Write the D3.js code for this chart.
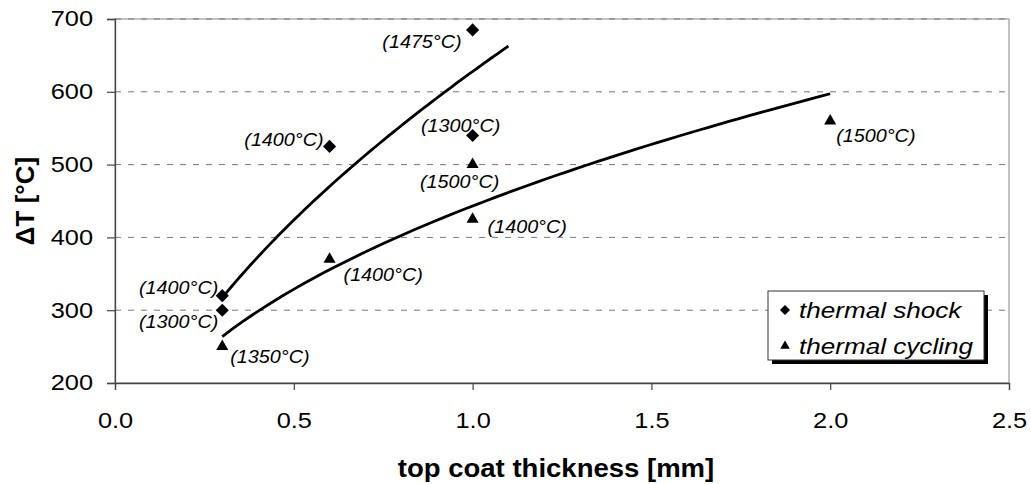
<!DOCTYPE html>
<html lang="en">
<head>
<meta charset="UTF-8">
<title>ΔT vs top coat thickness</title>
<script src="https://cdn.jsdelivr.net/npm/d3@7"></script>
<style>
  body { margin: 0; background: #fff; }
  text { font-family: "Liberation Sans", Arial, sans-serif; }
</style>
</head>
<body>
<svg width="1031" height="484"></svg>
<script>
// data
var shockX = [0.3, 0.3, 0.6, 1.0, 1.0];
var shockY = [320, 300, 525, 685, 540];
var shockTemp = ['(1400°C)', '(1300°C)', '(1400°C)', '(1475°C)', '(1300°C)'];

var cycX = [0.3, 0.6, 1.0, 1.0, 2.0];
var cycY = [250, 370, 500, 425, 560];
var cycTemp = ['(1350°C)', '(1400°C)', '(1500°C)', '(1400°C)', '(1500°C)'];

var xTicks = [0.0, 0.5, 1.0, 1.5, 2.0, 2.5];
var yTicks = [200, 300, 400, 500, 600, 700];
var seriesNames = ['thermal shock', 'thermal cycling'];
// x range of each power trendline
var shockTrend = [0.3, 1.1];
var cycTrend = [0.3, 2.0];

// label offsets (layout only): [dx, dy, anchor]
var shockLab = [[-4, -2, 'end'], [-4, 18, 'end'], [-6, 0, 'end'], [-11, 18, 'end'], [-12, -3, 'middle']];
var cycLab = [[8, 16, 'start'], [14, 22, 'start'], [-13, 23, 'middle'], [15, 14, 'start'], [6, 21, 'start']];

var svg = d3.select('svg');
var marge = {top: 19, right: 22, bottom: 101, left: 115};
var width = 1031 - marge.left - marge.right,
    height = 484 - marge.top - marge.bottom;

var g = svg.append('g')
    .attr('transform', 'translate(' + marge.left + ',' + marge.top + ')');

var x = d3.scaleLinear().domain([0, 2.5]).range([0, width]);
var y = d3.scaleLinear().domain([200, 700]).range([height, 0]);

// plot frame (top / right in light grey)
g.append('rect')
    .attr('width', width).attr('height', height)
    .attr('fill', 'none').attr('stroke', '#9a9a9a').attr('stroke-width', 1.2);

// dashed grid lines
g.selectAll('.grid')
    .data(yTicks.slice(1))
    .enter().append('line')
    .attr('x1', 0).attr('x2', width)
    .attr('y1', function (d) { return y(d); })
    .attr('y2', function (d) { return y(d); })
    .attr('stroke', '#777').attr('stroke-width', 1)
    .attr('stroke-dasharray', '6,7');

// axes
var sx = 1.18;
var yAxis = g.append('g')
    .call(d3.axisLeft(y).tickValues(yTicks).tickSize(8).tickFormat(d3.format('d')));
var xAxis = g.append('g')
    .attr('transform', 'translate(0,' + height + ')')
    .call(d3.axisBottom(x).tickValues(xTicks).tickSize(7).tickPadding(23).tickFormat(d3.format('.1f')));

[yAxis, xAxis].forEach(function (a) {
    a.select('.domain').attr('stroke', '#444').attr('stroke-width', 1.3);
    a.selectAll('.tick line').attr('stroke', '#444').attr('stroke-width', 1.2);
    a.selectAll('.tick text').attr('font-size', 21.5).attr('fill', '#000')
        .attr('font-family', '"Liberation Sans", Arial, sans-serif');
});
yAxis.selectAll('.tick text').attr('x', 0)
    .attr('transform', 'translate(-22,0) scale(' + sx + ',1)');
xAxis.selectAll('.tick text')
    .attr('transform', 'scale(' + sx + ',1)');

// power trendlines y = a*x^b fitted on log values
function powerFit(xs, ys) {
    var lx = xs.map(Math.log), ly = ys.map(Math.log);
    var mx = d3.mean(lx), my = d3.mean(ly);
    var b = d3.sum(lx, function (v, i) { return (v - mx) * (ly[i] - my); }) /
        d3.sum(lx, function (v) { return (v - mx) * (v - mx); });
    var a = Math.exp(my - b * mx);
    return function (t) { return a * Math.pow(t, b); };
}

var line = d3.line()
    .x(function (d) { return x(d[0]); })
    .y(function (d) { return y(d[1]); });

function trend(xs, ys, range) {
    var f = powerFit(xs, ys);
    var pts = d3.range(0, 61).map(function (i) {
        var t = range[0] + (range[1] - range[0]) * i / 60;
        return [t, f(t)];
    });
    g.append('path')
        .attr('d', line(pts))
        .attr('fill', 'none').attr('stroke', '#000').attr('stroke-width', 2.8);
}
trend(shockX, shockY, shockTrend);
trend(cycX, cycY, cycTrend);

// markers
var diamond = d3.symbol().type(d3.symbolDiamond2).size(110);
var triangle = d3.symbol().type(d3.symbolTriangle2).size(105);

function markers(xs, ys, sym) {
    g.selectAll(null)
        .data(xs)
        .enter().append('path')
        .attr('d', sym)
        .attr('transform', function (d, i) {
            return 'translate(' + x(d) + ',' + y(ys[i]) + ')';
        })
        .attr('fill', '#000');
}
markers(shockX, shockY, diamond);
markers(cycX, cycY, triangle);

// temperature labels
function labels(xs, ys, texts, lay) {
    g.selectAll(null)
        .data(xs)
        .enter().append('text')
        .attr('transform', function (d, i) {
            return 'translate(' + (x(d) + lay[i][0]) + ',' + (y(ys[i]) + lay[i][1]) + ') scale(1.04,1)';
        })
        .attr('text-anchor', function (d, i) { return lay[i][2]; })
        .attr('font-size', 19)
        .attr('font-style', 'italic')
        .attr('fill', '#000')
        .text(function (d, i) { return texts[i]; });
}
labels(shockX, shockY, shockTemp, shockLab);
labels(cycX, cycY, cycTemp, cycLab);

// axis titles
svg.append('text')
    .attr('transform', 'translate(' + (marge.left + width / 2 - 6) + ',477) scale(1.08,1)')
    .attr('text-anchor', 'middle')
    .attr('font-size', 25.5).attr('font-weight', 'bold')
    .text('top coat thickness [mm]');

svg.append('text')
    .attr('transform', 'translate(34,' + (marge.top + height / 2) + ') rotate(-90)')
    .attr('text-anchor', 'middle')
    .attr('font-size', 26).attr('font-weight', 'bold')
    .text('ΔT [°C]');

// legend
var lg = svg.append('g').attr('transform', 'translate(768,291)');
lg.append('rect')
    .attr('x', 4).attr('y', 4).attr('width', 216).attr('height', 69)
    .attr('fill', '#000');
lg.append('rect')
    .attr('width', 216).attr('height', 69)
    .attr('fill', '#fff').attr('stroke', '#333').attr('stroke-width', 1);

var legSyms = [d3.symbol().type(d3.symbolDiamond2).size(65), d3.symbol().type(d3.symbolTriangle2).size(65)];
var items = lg.selectAll('.item')
    .data(seriesNames)
    .enter().append('g')
    .attr('transform', function (d, i) { return 'translate(0,' + (19 + i * 36) + ')'; });
items.append('path')
    .attr('d', function (d, i) { return legSyms[i](); })
    .attr('transform', 'translate(17,0)')
    .attr('fill', '#000');
items.append('text')
    .attr('transform', 'translate(31,8) scale(1.16,1)')
    .attr('font-size', 22.5)
    .attr('font-style', 'italic')
    .text(function (d) { return d; });
</script>
</body>
</html>
